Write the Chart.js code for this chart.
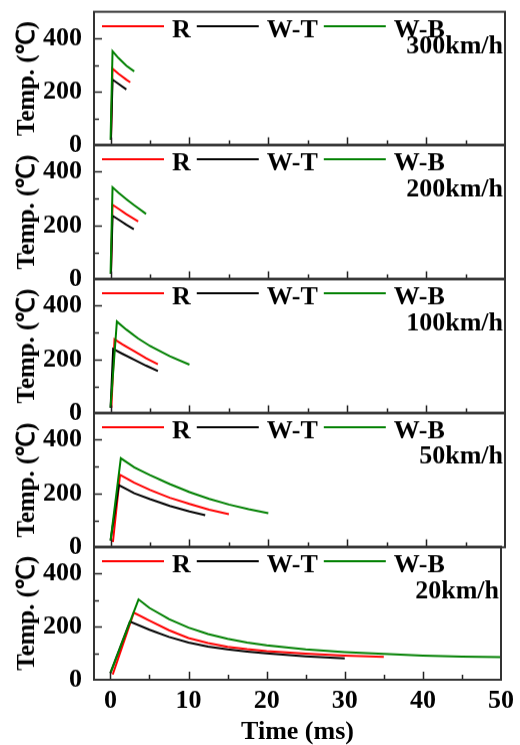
<!DOCTYPE html>
<html>
<head>
<meta charset="utf-8">
<script src="https://cdn.jsdelivr.net/npm/chart.js@4.4.1/dist/chart.umd.min.js"></script>
<style>
  body { margin: 0; background: #fff; }
  #wrap { position: relative; width: 520px; height: 745px; overflow: hidden; background: #fff; }
  #wrap canvas { position: absolute; left: 0; }
</style>
</head>
<body>
<div id="wrap"></div>
<script>
// ===== DATA : [time (ms), temperature (℃)] =====
const speeds = ['300km/h', '200km/h', '100km/h', '50km/h', '20km/h'];
const seriesNames = ['R', 'W-T', 'W-B'];

const r300  = [[0.05, 20], [0.25, 287], [1, 268], [2, 246], [2.5, 236]];
const wt300 = [[0.05, 20], [0.25, 246], [1, 230], [2, 209]];
const wb300 = [[0, 20], [0.25, 352], [1, 327], [2, 298], [3, 277]];

const r200  = [[0.05, 20], [0.25, 277], [1, 262], [2, 242], [3.5, 215]];
const wt200 = [[0.05, 20], [0.25, 236], [1, 222], [2, 203], [2.95, 186]];
const wb200 = [[0, 20], [0.25, 342], [1, 322], [2, 298], [3, 275], [4.5, 243]];

const r100  = [[0.1, 20], [0.5, 275], [1.5, 256], [3, 231], [4.5, 205], [6, 182]];
const wt100 = [[0, 20], [0.33, 239], [1.5, 221], [3, 199], [4.5, 177], [6, 157]];
const wb100 = [[0, 22], [0.8, 341], [2, 311], [3.5, 278], [5, 250], [7.5, 212], [10, 181]];

const r50  = [[0.3, 20], [1.2, 269], [3, 240], [5, 213], [7.5, 184], [10, 161], [12.5, 140], [15, 123]];
const wt50 = [[0, 25], [1.05, 231], [3, 201], [5, 179], [7.5, 154], [10, 133], [12, 119]];
const wb50 = [[0, 25], [1.3, 331], [3, 297], [5, 268], [7.5, 235], [10, 205], [12.5, 180], [15, 159], [17.5, 142], [20, 127]];

const r20  = [[0.3, 20], [3.0, 252], [5, 222], [7.5, 186], [10, 157], [12.5, 138], [15, 124], [17.5, 115], [20, 108], [25, 98], [30, 91], [35, 86]];
const wt20 = [[0, 25], [2.5, 219], [5, 188], [7.5, 161], [10, 140], [12.5, 125], [15, 114], [17.5, 106], [20, 99], [25, 88], [30, 80]];
const wb20 = [[0, 25], [3.6, 302], [5, 270], [7.5, 228], [10, 196], [12.5, 172], [15, 154], [17.5, 140], [20, 129], [25, 114], [30, 104], [35, 97], [40, 91], [45, 87], [50, 85]];

const panelData = [
    [r300, wt300, wb300],
    [r200, wt200, wb200],
    [r100, wt100, wb100],
    [r50, wt50, wb50],
    [r20, wt20, wb20]
];

// ===== STYLE / LAYOUT =====
const colors = ['#ff0000', '#000000', '#008000'];
const FONT = "'Liberation Serif', 'Times New Roman', serif";
const edges = [12, 145, 279, 413, 547, 680];   // panel borders (px)
const PAD = 22;
const X_AXIS_H = 745 - 680;
const X_MIN = -2.1, X_MAX = 50;
const Y_MAX = 500;
const speedOffset = [41, 51, 51, 50, 51];

Chart.defaults.font.family = FONT;
Chart.defaults.color = '#000';

// ===== DECORATION: frame, inward ticks, legend, speed label =====
const decoPlugin = {
    id: 'deco',
    afterDatasetsDraw(chart, args, opts) {
        const ctx = chart.ctx;
        const a = chart.chartArea;
        const xs = chart.scales.x;
        const ys = chart.scales.y;

        ctx.save();
        ctx.strokeStyle = '#222';
        ctx.lineWidth = 1.5;
        ctx.beginPath();
        for (let v = 0; v < X_MAX; v += 5) {
            const px = Math.round(xs.getPixelForValue(v)) + 0.5;
            const len = v % 10 === 0 ? 8 : 5;
            ctx.moveTo(px, a.bottom);
            ctx.lineTo(px, a.bottom - len);
        }
        ys.ticks.forEach(t => {
            const v = t.value;
            if (v <= 0 || v >= Y_MAX) return;
            const py = Math.round(ys.getPixelForValue(v)) + 0.5;
            const len = v % 200 === 0 ? 8 : 5;
            ctx.moveTo(a.left, py);
            ctx.lineTo(a.left + len, py);
        });
        ctx.stroke();

        // frame
        ctx.lineWidth = 2;
        ctx.strokeStyle = '#333';
        ctx.strokeRect(a.left, a.top, a.right - a.left, a.bottom - a.top);

        // legend row
        ctx.font = 'bold 26px ' + FONT;
        ctx.fillStyle = '#000';
        ctx.textBaseline = 'alphabetic';
        ctx.textAlign = 'left';
        let x = a.left + 8;
        const ly = a.top + 14.5;
        seriesNames.forEach((name, i) => {
            ctx.strokeStyle = colors[i];
            ctx.lineWidth = 2;
            ctx.beginPath();
            ctx.moveTo(x, ly);
            ctx.lineTo(x + 62, ly);
            ctx.stroke();
            x += 62 + 8;
            ctx.fillText(name, x, a.top + 25);
            x += ctx.measureText(name).width + 6;
        });

        // speed label
        ctx.textAlign = 'right';
        ctx.fillText(speeds[opts.index], a.right - 2, a.top + speedOffset[opts.index]);
        ctx.restore();
    }
};

// ===== CREATE CHARTS =====
const wrap = document.getElementById('wrap');

function buildPanel(i, top, height) {
    const series = panelData[i];
    const last = i === panelData.length - 1;

    const canvas = document.createElement('canvas');
    canvas.width = 520;
    canvas.height = height;
    canvas.style.top = top + 'px';
    canvas.style.width = '520px';
    canvas.style.height = height + 'px';
    wrap.appendChild(canvas);

    // W-B first so it is drawn on top
    const datasets = [2, 1, 0].map(k => ({
        label: seriesNames[k],
        data: series[k].map(p => ({ x: p[0], y: p[1] })),
        borderColor: colors[k],
        borderWidth: 2,
        pointRadius: 0,
        tension: 0,
        fill: false
    }));

    const chart = new Chart(canvas, {
        type: 'line',
        data: { datasets: datasets },
        plugins: [decoPlugin],
        options: {
            responsive: false,
            animation: false,
            devicePixelRatio: 1,
            layout: { padding: { left: 0, right: 15, top: PAD, bottom: last ? 0 : PAD } },
            plugins: {
                legend: { display: false },
                tooltip: { enabled: false },
                deco: { index: i }
            },
            scales: {
                x: {
                    type: 'linear',
                    display: last,
                    min: X_MIN,
                    max: X_MAX,
                    grid: { display: false, drawTicks: false },
                    border: { display: false },
                    afterBuildTicks: s => {
                        s.ticks = [0, 10, 20, 30, 40, 50].map(v => ({ value: v }));
                    },
                    ticks: {
                        autoSkip: false,
                        maxRotation: 0,
                        padding: 6,
                        font: { size: 26, weight: 'bold' },
                        callback: v => String(v)
                    },
                    title: {
                        display: true,
                        text: 'Time (ms)',
                        font: { size: 26, weight: 'bold', lineHeight: 1 },
                        padding: { top: 0, bottom: 0 }
                    },
                    afterFit: s => { if (last) s.height = X_AXIS_H; }
                },
                y: {
                    type: 'linear',
                    min: 0,
                    max: Y_MAX,
                    grid: { display: false, drawTicks: false },
                    border: { display: false },
                    ticks: {
                        stepSize: 100,
                        autoSkip: false,
                        padding: 12,
                        font: { size: 26, weight: 'bold' },
                        callback: v => (v % 200 === 0 && v < Y_MAX) ? String(v) : ''
                    },
                    title: {
                        display: true,
                        text: 'Temp. (℃)',
                        font: { size: 25, weight: 'bold', lineHeight: 1 },
                        padding: { top: 15, bottom: 0 }
                    },
                    afterFit: s => { s.width = 94; }
                }
            }
        }
    });
    return { chart, canvas };
}

panelData.forEach((series, i) => {
    const last = i === panelData.length - 1;
    const wantH = edges[i + 1] - edges[i];
    let top = edges[i] - PAD;
    let height = last ? 745 - top : wantH + 2 * PAD;

    // first pass: measure where the library puts the plot area, then rebuild to fit the panel
    const probe = buildPanel(i, top, height);
    const aTop = probe.chart.chartArea.top;
    const aH = probe.chart.chartArea.bottom - aTop;
    probe.chart.destroy();
    probe.canvas.remove();

    top = edges[i] - aTop;
    height = last ? 745 - top : height + (wantH - aH);
    buildPanel(i, top, height);
});
</script>
</body>
</html>
